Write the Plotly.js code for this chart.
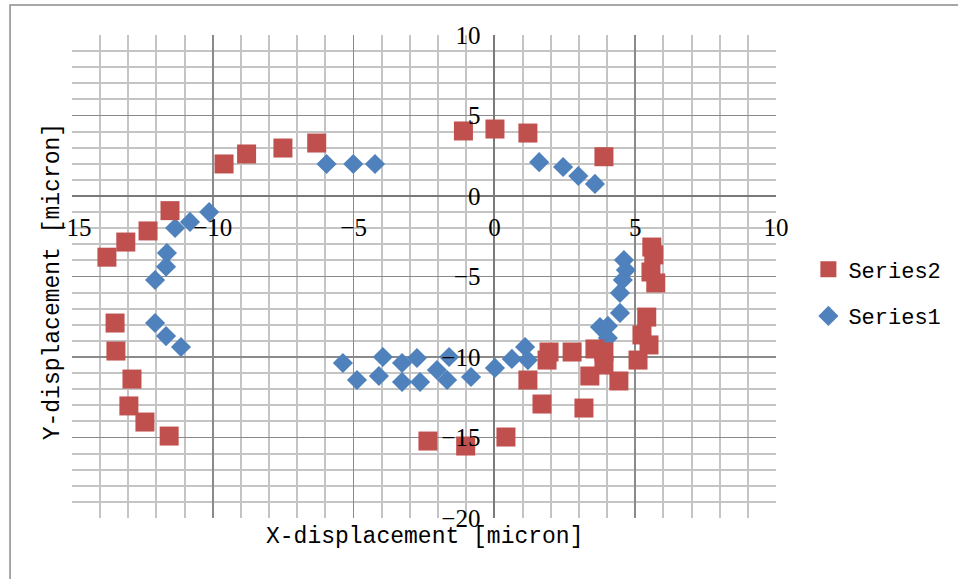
<!DOCTYPE html>
<html>
<head>
<meta charset="utf-8">
<script src="https://cdn.plot.ly/plotly-3.0.1.min.js"></script>
<style>html,body{margin:0;padding:0;background:#fff;}#chart{width:958px;height:579px;}</style>
</head>
<body>
<div id="chart"></div>
<script>
// Series1 (blue diamonds)
var series1X = [-10.13, -10.81, -11.34, -11.63, -11.66, -12.05, -12.05, -11.66, -11.13,
  -5.96, -5.01, -4.24, 1.59, 2.44, 2.98, 3.57,
  4.60, 4.67, 4.56, 4.46, 4.46, 3.75, 4.03, 4.03,
  -5.38, -4.88, -3.96, -4.10, -3.28, -3.28, -2.75, -2.64, -2.04, -1.68, -1.61, -0.83, 0.02, 0.62, 1.09, 1.19];
var series1Y = [-1.00, -1.61, -1.99, -3.54, -4.39, -5.22, -7.89, -8.70, -9.38,
  1.99, 1.99, 1.99, 2.10, 1.80, 1.24, 0.75,
  -3.98, -4.60, -5.22, -6.02, -7.26, -8.14, -8.07, -8.82,
  -10.37, -11.43, -10.00, -11.18, -10.37, -11.55, -10.06, -11.55, -10.81, -11.43, -10.00, -11.24, -10.68, -10.12, -9.38, -10.19];

// Series2 (red squares)
var series2X = [-13.76, -13.09, -12.30, -11.52, -13.47, -13.44, -12.87, -12.98, -12.41, -11.55,
  -9.60, -8.80, -7.51, -6.31, -1.10, 0.02, 1.19, 3.89,
  5.59, 5.66, 5.56, 5.73, 5.41, 5.24, 5.49, 5.10, 4.42, 3.89, 3.89, 3.57, 3.39, 3.18, 2.76, 1.94, 1.87, 1.69, 1.19, 0.41, -1.02, -2.36];
var series2Y = [-3.80, -2.86, -2.17, -0.91, -7.89, -9.63, -11.37, -13.04, -14.04, -14.91,
  1.99, 2.61, 2.98, 3.29, 4.04, 4.16, 3.91, 2.44,
  -3.17, -3.66, -4.72, -5.40, -7.52, -8.63, -9.25, -10.19, -11.49, -9.69, -10.50, -9.50, -11.18, -13.17, -9.69, -9.69, -10.19, -12.92, -11.43, -14.97, -15.53, -15.22];

var seriesNames = ["Series1", "Series2"];
var xRange = [-15, 10];
var yRange = [-20, 10];
var xTitle = "X-displacement [micron]";
var yTitle = "Y-displacement [micron]";

var tickFont = {family: "Liberation Serif, serif", size: 25, color: "#000"};
var monoFont = {family: "Liberation Mono, monospace", size: 23, color: "#000"};

var traces = [
  {x: series1X, y: series1Y, name: seriesNames[0], type: "scatter", mode: "markers",
   legendgroup: "s1", legendrank: 2,
   marker: {symbol: "diamond", size: 15.5, color: "#4F81BD"}},
  {x: series2X, y: series2Y, name: seriesNames[1], type: "scatter", mode: "markers",
   legendgroup: "s2", legendrank: 1,
   marker: {symbol: "square", size: 19, color: "#C0504D"}}
];

// position of the zero crossing as fraction of each axis
var xZeroFrac = (0 - xRange[0]) / (xRange[1] - xRange[0]);
var yZeroFrac = (0 - yRange[0]) / (yRange[1] - yRange[0]);

var layout = {
  width: 958, height: 579,
  margin: {l: 72, r: 182, t: 35, b: 61},
  paper_bgcolor: "#fff", plot_bgcolor: "#fff",
  showlegend: true,
  legend: {x: 1.046, y: 0.558, xanchor: "left", yanchor: "top",
           traceorder: "grouped", tracegroupgap: 15,
           font: {family: "Liberation Mono, monospace", size: 22, color: "#000"},
           itemwidth: 30, bgcolor: "rgba(0,0,0,0)"},
  xaxis: {range: xRange, dtick: 5, tick0: 0, anchor: "free", position: yZeroFrac,
          showgrid: true, gridcolor: "#8a8a8a", gridwidth: 1.5,
          minor: {dtick: 1, showgrid: true, gridcolor: "#c4c4c4", gridwidth: 2, ticks: ""},
          zeroline: true, zerolinecolor: "#7a7a7a", zerolinewidth: 2,
          showline: false, ticks: "", ticklabelstandoff: 14,
          tickfont: tickFont, fixedrange: true},
  yaxis: {range: yRange, dtick: 5, tick0: 0, anchor: "free", position: xZeroFrac,
          showgrid: true, gridcolor: "#8a8a8a", gridwidth: 1.5,
          minor: {dtick: 1, showgrid: true, gridcolor: "#c4c4c4", gridwidth: 2, ticks: ""},
          zeroline: true, zerolinecolor: "#7a7a7a", zerolinewidth: 2,
          showline: false, ticks: "", ticklabelstandoff: 14,
          tickfont: tickFont, fixedrange: true},
  annotations: [
    {text: xTitle, xref: "paper", yref: "paper", x: 0.5, y: -0.039,
     xanchor: "center", yanchor: "middle", showarrow: false, font: monoFont},
    {text: yTitle, xref: "paper", yref: "paper", x: -0.027, y: 0.49,
     xanchor: "center", yanchor: "middle", textangle: -90, showarrow: false, font: monoFont}
  ],
  shapes: [
    {type: "rect", xref: "paper", yref: "paper", x0: -0.088, x1: 1.5, y0: -0.3, y1: 1.062,
     line: {color: "#8c8c8c", width: 1.5}, fillcolor: "rgba(0,0,0,0)", layer: "below"}
  ]
};

Plotly.newPlot("chart", traces, layout, {displayModeBar: false, staticPlot: true});
</script>
</body>
</html>
